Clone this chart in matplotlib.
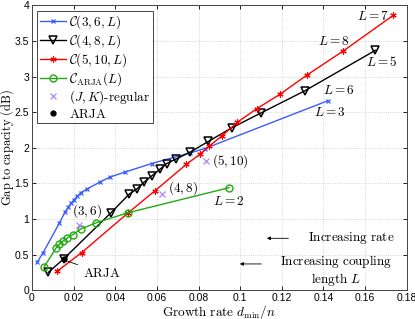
import matplotlib
matplotlib.use("Agg")
import matplotlib.pyplot as plt

plt.rcParams['mathtext.fontset'] = 'cm'
plt.rcParams['font.family'] = ['Liberation Sans', 'DejaVu Sans']

# C(3,6,L)
c36_x = [0.0026, 0.0054, 0.0131, 0.0159, 0.0175, 0.0187, 0.0202, 0.0218, 0.0234,
         0.0263, 0.0327, 0.0375, 0.0447, 0.0575, 0.0760, 0.0830, 0.1420]
c36_y = [0.40, 0.53, 0.94, 1.10, 1.17, 1.22, 1.27, 1.32, 1.37,
         1.42, 1.52, 1.59, 1.66, 1.78, 1.93, 1.99, 2.66]

# C(4,8,L)
c48_x = [0.0078, 0.0152, 0.0380, 0.0467, 0.0503, 0.0539, 0.0577, 0.0615, 0.0647,
         0.0690, 0.0760, 0.0847, 0.0959, 0.1100, 0.1310, 0.1650]
c48_y = [0.25, 0.44, 1.09, 1.35, 1.42, 1.52, 1.61, 1.70, 1.78,
         1.84, 1.94, 2.09, 2.28, 2.49, 2.80, 3.37]

# C(5,10,L)
c510_x = [0.0122, 0.0239, 0.0463, 0.0592, 0.0742, 0.0807, 0.0850, 0.0913, 0.0987,
          0.1080, 0.1190, 0.1320, 0.1495, 0.1735]
c510_y = [0.27, 0.53, 1.09, 1.40, 1.77, 1.91, 2.02, 2.17, 2.36,
          2.55, 2.75, 3.02, 3.36, 3.86]

# C_ARJA(L)
arja_x = [0.0059, 0.0117, 0.0132, 0.0148, 0.0168, 0.0195, 0.0235, 0.0310, 0.0463, 0.0946]
arja_y = [0.33, 0.60, 0.65, 0.69, 0.73, 0.78, 0.86, 0.95, 1.09, 1.44]

# (J,K)-regular block codes
reg_x = [0.0227, 0.0626, 0.0836]
reg_y = [0.92, 1.35, 1.82]
reg_labels = ['(3,6)', '(4,8)', '(5,10)']

# ARJA block code
arja_pt = (0.0154, 0.44)

fig = plt.figure(figsize=(4.15, 3.19), dpi=100)
ax = fig.add_axes([0.077, 0.090, 0.903, 0.893])

blue = '#3a5cff'
green = '#22aa11'
purple = '#b488ff'

ax.plot(c36_x, c36_y, color=blue, lw=1.0, marker='x', ms=3, mew=0.9,
        label=r'$\mathcal{C}(3,6,L)$')
ax.plot(c48_x, c48_y, color='black', lw=1.0, marker='v', ms=5.5, mew=1.1,
        mfc='none', label=r'$\mathcal{C}(4,8,L)$')
ax.plot(c510_x, c510_y, color='red', lw=1.0, marker=(6, 2, 0), ms=4.5, mew=0.8,
        label=r'$\mathcal{C}(5,10,L)$')
ax.plot(arja_x, arja_y, color=green, lw=1.0, marker='o', ms=5, mew=1.0,
        mfc='none', label=r'$\mathcal{C}_{\mathrm{ARJA}}(L)$')
ax.plot(reg_x, reg_y, ls='none', color=purple, marker='x', ms=5, mew=0.9,
        label=r'$(J,K)\text{-regular}$')
ax.plot([arja_pt[0]], [arja_pt[1]], ls='none', color='black', marker='o', ms=3.5,
        label=r'$\mathrm{ARJA}$')

fs = 9.5
# labels of the regular codes
ax.text(reg_x[0] - 0.0037, reg_y[0] + 0.19, r'$%s$' % reg_labels[0], fontsize=fs,
        ha='left', va='center')
ax.text(reg_x[1] + 0.0027, reg_y[1] + 0.08, r'$%s$' % reg_labels[1], fontsize=fs,
        ha='left', va='center')
ax.text(reg_x[2] + 0.0030, reg_y[2], r'$%s$' % reg_labels[2], fontsize=fs,
        ha='left', va='center')

ax.annotate(r'$\mathrm{ARJA}$', xy=(0.0160, 0.42), xytext=(0.0245, 0.24),
            fontsize=fs, ha='left', va='center',
            arrowprops=dict(arrowstyle='-', color='black', lw=0.6))

ax.text(0.1430, 2.49, r'$L{=}3$', fontsize=fs, ha='center', va='center')
ax.text(0.1400, 2.80, r'$L{=}6$', fontsize=fs, ha='left', va='center')
ax.text(0.1680, 3.21, r'$L{=}5$', fontsize=fs, ha='center', va='center')
ax.text(0.1450, 3.50, r'$L{=}8$', fontsize=fs, ha='center', va='center')
ax.text(0.1640, 3.84, r'$L{=}7$', fontsize=fs, ha='center', va='center')
ax.text(0.0948, 1.24, r'$L{=}2$', fontsize=fs, ha='center', va='center')

ax.annotate('', xy=(0.1115, 0.73), xytext=(0.1245, 0.73),
            arrowprops=dict(arrowstyle='-|>', color='black', lw=0.6,
                            mutation_scale=5))
ax.text(0.174, 0.73, r'$\mathrm{Increasing\ rate}$', fontsize=fs,
        ha='right', va='center')
ax.annotate('', xy=(0.0985, 0.37), xytext=(0.1115, 0.37),
            arrowprops=dict(arrowstyle='-|>', color='black', lw=0.6,
                            mutation_scale=5))
ax.text(0.1460, 0.28, r'$\mathrm{Increasing\ coupling}$' + '\n' + r'$\mathrm{length}\ L$',
        fontsize=fs, ha='center', va='center', multialignment='center',
        linespacing=1.1)

ax.set_xlim(0, 0.18)
ax.set_ylim(0, 4)
ax.set_xticks([0, 0.02, 0.04, 0.06, 0.08, 0.1, 0.12, 0.14, 0.16, 0.18])
ax.set_xticklabels(['0', '0.02', '0.04', '0.06', '0.08', '0.1', '0.12', '0.14', '0.16', '0.18'])
ax.set_yticks([0, 0.5, 1, 1.5, 2, 2.5, 3, 3.5, 4])
ax.set_yticklabels(['0', '0.5', '1', '1.5', '2', '2.5', '3', '3.5', '4'])
ax.tick_params(direction='in', length=3, width=0.6, labelsize=7.5,
               top=True, right=True, pad=2)
ax.grid(True, ls=':', lw=0.6, color='#c8c8c8')
for s in ax.spines.values():
    s.set_linewidth(0.7)
    s.set_color('#444444')

ax.set_xlabel(r'$\mathrm{Growth\ rate}\ d_{\min}/n$', fontsize=fs)
ax.set_ylabel(r'$\mathrm{Gap\ to\ capacity\ (dB)}$', fontsize=9)
ax.xaxis.set_label_coords(0.5, -0.043)
ax.yaxis.set_label_coords(-0.042, 0.5)

leg = ax.legend(loc='upper left', fontsize=fs, fancybox=False, framealpha=1,
                edgecolor='#444444', borderpad=0.2, labelspacing=0.08,
                handlelength=2.0, handletextpad=0.2, borderaxespad=0.4)
leg.get_frame().set_linewidth(0.7)

fig.savefig('out.png', dpi=100)
